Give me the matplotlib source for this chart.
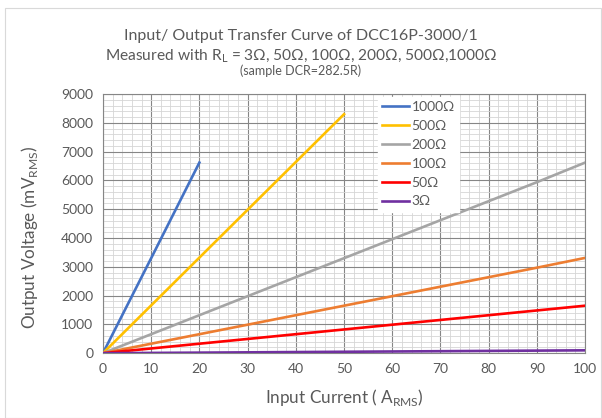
import matplotlib
matplotlib.use("Agg")
import matplotlib.pyplot as plt
from matplotlib.ticker import MultipleLocator
from matplotlib.patches import Rectangle

# --- data ---
current_1000 = [0, 10, 20]
voltage_1000 = [0, 3300, 6620]
current_500 = [0, 10, 20, 30, 40, 50]
voltage_500 = [0, 1660, 3320, 4980, 6640, 8300]
current_low = [0, 10, 20, 30, 40, 50, 60, 70, 80, 90, 100]
voltage_200 = [0, 660, 1320, 1980, 2640, 3300, 3960, 4620, 5280, 5940, 6620]
voltage_100 = [0, 330, 660, 990, 1320, 1650, 1980, 2310, 2640, 2970, 3310]
voltage_50 = [0, 165, 330, 495, 660, 825, 990, 1155, 1320, 1485, 1650]
voltage_3 = [0, 10, 20, 30, 40, 50, 60, 70, 80, 90, 100]

series = [
    ("1000Ω", current_1000, voltage_1000, "#4472C4"),
    ("500Ω", current_500, voltage_500, "#FFC000"),
    ("200Ω", current_low, voltage_200, "#A5A5A5"),
    ("100Ω", current_low, voltage_100, "#ED7D31"),
    ("50Ω", current_low, voltage_50, "#FF0000"),
    ("3Ω", current_low, voltage_3, "#7030A0"),
]

plt.rcParams['font.family'] = ['Lato', 'DejaVu Sans']
plt.rcParams['mathtext.fontset'] = 'custom'
plt.rcParams['mathtext.rm'] = 'Lato'
text_col = "#595959"

fig = plt.figure(figsize=(6.02, 4.18), dpi=100)
fig.patches.append(Rectangle((0.008, 0.0), 0.99, 0.982, transform=fig.transFigure,
                             fill=False, edgecolor="#d9d9d9", lw=0.8))
ax = fig.add_axes([0.171, 0.155, 0.801, 0.620])

for name, x, y, col in series:
    ax.plot(x, y, color=col, lw=1.9, label=name, zorder=3)

ax.set_xlim(0, 100)
ax.set_ylim(0, 9000)
ax.xaxis.set_major_locator(MultipleLocator(10))
ax.xaxis.set_minor_locator(MultipleLocator(2))
ax.yaxis.set_major_locator(MultipleLocator(1000))
ax.yaxis.set_minor_locator(MultipleLocator(200))
ax.grid(which="major", color="#868686", lw=0.8, zorder=1)
ax.grid(which="minor", color="#d6d6d6", lw=0.6, zorder=0)
ax.tick_params(which="both", length=0, colors=text_col, labelsize=10, pad=7)
for sp in ax.spines.values():
    sp.set_color("#868686")
    sp.set_linewidth(0.8)

ax.set_xlabel("Input Current ( A$_\\mathregular{RMS}$)", fontsize=12.3, color=text_col, labelpad=9)
fig.text(30 / 602, 1 - 237 / 418, "Output Voltage (mV$_\\mathregular{RMS}$)", rotation=90,
         ha="center", va="center", fontsize=12.3, color=text_col)

fig.text(0.5, 0.913, "Input/ Output Transfer Curve of DCC16P-3000/1", ha="center", va="center",
         fontsize=11.5, color=text_col)
fig.text(0.5, 0.865, "Measured with R$_\\mathregular{L}$ = 3Ω, 50Ω, 100Ω, 200Ω, 500Ω,1000Ω",
         ha="center", va="center", fontsize=11.2, color=text_col)
fig.text(0.5, 0.830, "(sample DCR=282.5R)", ha="center", va="center", fontsize=9, color=text_col)

leg = ax.legend(loc="upper left", bbox_to_anchor=(0.555, 1.017), frameon=True, fancybox=False,
                framealpha=1, edgecolor="white", fontsize=10, handlelength=2.0,
                handletextpad=0.15, labelspacing=0.5, borderpad=0.3)
for t in leg.get_texts():
    t.set_color(text_col)

fig.savefig("out.png", dpi=100)
